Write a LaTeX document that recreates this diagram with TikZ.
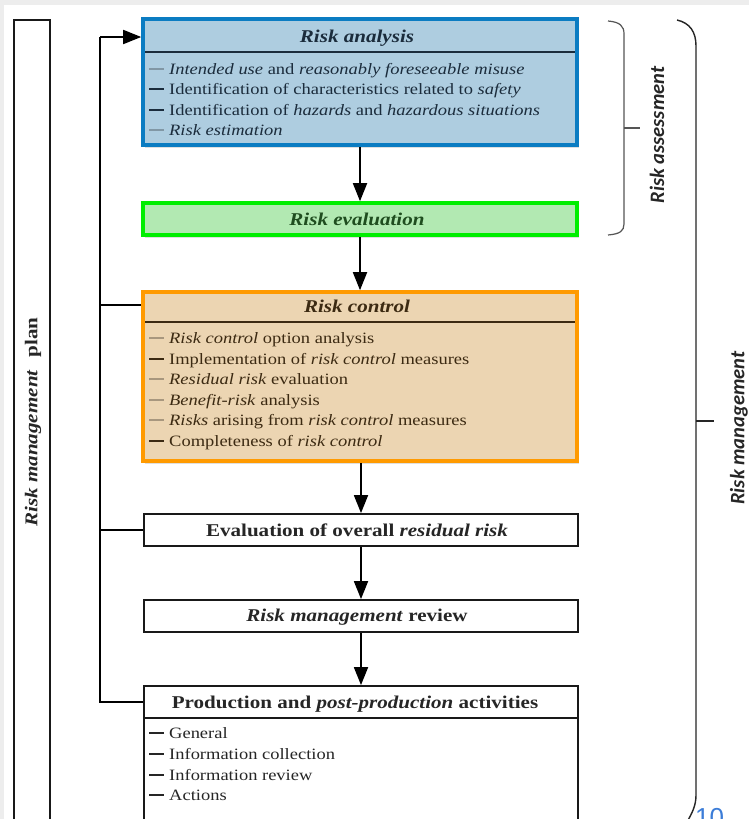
\documentclass[tikz,border=0pt]{standalone}
\usepackage{fontspec}
\setmainfont[FakeStretch=1.17]{Liberation Serif}
\newfontfamily\labelfont{Carlito}
\newfontfamily\slidefont{Liberation Sans}
\usetikzlibrary{arrows.meta,shadows}

\definecolor{pagegray}{HTML}{EDEDED}
\definecolor{anaborder}{HTML}{0B7CC2}
\definecolor{anafill}{HTML}{AECDE0}
\definecolor{anatext}{HTML}{1B2C3C}
\definecolor{anasoft}{HTML}{8197A5}
\definecolor{evlborder}{HTML}{00EE00}
\definecolor{evlfill}{HTML}{B2E9B2}
\definecolor{evltext}{HTML}{1F4D1F}
\definecolor{ctlborder}{HTML}{FF9A00}
\definecolor{ctlfill}{HTML}{ECD5B2}
\definecolor{ctltext}{HTML}{3C2A12}
\definecolor{ctlsoft}{HTML}{A8977E}
\definecolor{bracegray}{HTML}{555555}
\definecolor{slideblue}{HTML}{3C7DD8}

% one list entry: coloured dash, then the text
\newcommand\listentry[2]{\makebox[20pt][l]{\textcolor{#1}{\rule[0.28em]{15pt}{1.6pt}}}#2}

\tikzset{
  boxpath/.style={draw, rectangle, inner sep=0pt, minimum width=434pt},
  colourbox/.style={boxpath, line width=3.6pt,
    drop shadow={opacity=0.25, shadow xshift=1.5pt, shadow yshift=-3pt}},
  plainbox/.style={boxpath, line width=1.8pt, fill=white, draw=black!90},
  titletext/.style={font=\bfseries\fontsize{18}{21}\selectfont, anchor=base, inner sep=0pt},
  itemtext/.style={font=\fontsize{15.8}{20}\selectfont, anchor=base west, inner sep=0pt},
  flowline/.style={line width=1.8pt, black},
  flow/.style={flowline, -{Triangle[length=18pt,width=14pt]}},
  sidelabel/.style={font=\labelfont\bfseries\itshape\fontsize{20.5}{24}\selectfont,
    rotate=90, text=black!85, inner sep=0pt},
}

\begin{document}
\begin{tikzpicture}[x=1pt,y=-1pt]
\useasboundingbox (0,0) rectangle (749,819);
\fill[pagegray] (0,0) rectangle (749,819);
\fill[white] (4,5) rectangle (749,819);

% risk management plan column
\node[plainbox, minimum width=36pt, minimum height=830pt, anchor=north] (plan) at (32,19) {};
\node[font=\bfseries\fontsize{18}{21}\selectfont, rotate=90, text=black!85, inner sep=0pt]
  (planlabel) at (33,422) {\textit{Risk management}\hspace{0.7em}plan};

% process boxes
\node[colourbox, draw=anaborder, fill=anafill, minimum height=126pt] (ana) at (360,82) {};
\node[colourbox, draw=evlborder, fill=evlfill, minimum height=32pt] (evl) at (360,219) {};
\node[colourbox, draw=ctlborder, fill=ctlfill, minimum height=169pt] (ctl) at (360,376.5) {};
\node[plainbox, minimum height=32pt] (eor) at (361,530) {};
\node[plainbox, minimum height=32pt] (rmr) at (361,616) {};
\node[plainbox, minimum height=32pt] (prodhead) at (361,702) {};
\node[plainbox, minimum height=130pt] (prodbody) at (361,783) {};

% risk analysis contents
\node[titletext, text=anatext] (anatitle) at (357,42) {\itshape Risk analysis};
\draw[anatext, line width=1.8pt] (145,52) -- (575,52);
\node[itemtext, text=anatext] (ana1) at (149,74)
  {\listentry{anasoft}{\emph{Intended use} and \emph{reasonably foreseeable misuse}}};
\node[itemtext, text=anatext] (ana2) at (149,94.5)
  {\listentry{anatext}{Identification of characteristics related to \emph{safety}}};
\node[itemtext, text=anatext] (ana3) at (149,115)
  {\listentry{anatext}{Identification of \emph{hazards} and \emph{hazardous situations}}};
\node[itemtext, text=anatext] (ana4) at (149,135.5)
  {\listentry{anasoft}{\emph{Risk estimation}}};

% risk evaluation
\node[titletext, text=evltext] (evltitle) at (357,225) {\itshape Risk evaluation};

% risk control contents
\node[titletext, text=ctltext] (ctltitle) at (357,312) {\itshape Risk control};
\draw[ctltext, line width=1.8pt] (145,322) -- (575,322);
\node[itemtext, text=ctltext] (ctl1) at (149,343.5)
  {\listentry{ctlsoft}{\emph{Risk control} option analysis}};
\node[itemtext, text=ctltext] (ctl2) at (149,364)
  {\listentry{ctltext}{Implementation of \emph{risk control} measures}};
\node[itemtext, text=ctltext] (ctl3) at (149,384.5)
  {\listentry{ctlsoft}{\emph{Residual risk} evaluation}};
\node[itemtext, text=ctltext] (ctl4) at (149,405)
  {\listentry{ctlsoft}{\emph{Benefit-risk} analysis}};
\node[itemtext, text=ctltext] (ctl5) at (149,425.5)
  {\listentry{ctlsoft}{\emph{Risks} arising from \emph{risk control} measures}};
\node[itemtext, text=ctltext] (ctl6) at (149,446)
  {\listentry{ctltext}{Completeness of \emph{risk control}}};

% remaining steps
\node[titletext, text=black!85] (eortitle) at (357,536.5) {Evaluation of overall \textit{residual risk}};
\node[titletext, text=black!85] (rmrtitle) at (357,621.5) {\textit{Risk management} review};
\node[titletext, text=black!85] (prodtitle) at (355,708) {Production and \textit{post-production} activities};
\node[itemtext, text=black!85] (prod1) at (149,738) {\listentry{black!85}{General}};
\node[itemtext, text=black!85] (prod2) at (149,759) {\listentry{black!85}{Information collection}};
\node[itemtext, text=black!85] (prod3) at (149,780) {\listentry{black!85}{Information review}};
\node[itemtext, text=black!85] (prod4) at (149,800) {\listentry{black!85}{Actions}};

% main flow
\draw[flow] (ana.south) -- (evl.north);
\draw[flow] (evl.south) -- (ctl.north);
\draw[flow] (ctl.south -| eor.north) -- (eor.north);
\draw[flow] (eor.south) -- (rmr.north);
\draw[flow] (rmr.south) -- (prodhead.north);

% feedback loop on the left
\coordinate (loop) at (100,37);
\coordinate (tapctl) at (100,305);
\draw[flowline] (prodhead.west) -| (loop);
\draw[flow] (loop) -- (loop -| ana.west);
\draw[flowline] (tapctl) -- (tapctl -| ctl.west);
\draw[flowline] (eor.west) -- (eor.west -| loop);

% brackets on the right
\draw[bracegray, line width=1.2pt]
  (608,21) .. controls (620,22) and (624,26) .. (624,34) -- (624,224)
  .. controls (624,231) and (620,234) .. (608,235);
\draw[bracegray, line width=1.2pt] (624,128) -- (640,128);
\node[sidelabel] (assess) at (657,135) {Risk assessment};

\draw[black!85, line width=1.4pt]
  (677,20) .. controls (690,23) and (696,32) .. (696,46) -- (696,795)
  .. controls (696,806) and (692,813) .. (687,822);
\draw[black!85, line width=1.2pt] (696,421) -- (714,421);
\node[sidelabel] (manage) at (739,428) {Risk management};

% slide number
\node[font=\slidefont\fontsize{26}{30}\selectfont, text=slideblue, anchor=base west, inner sep=0pt]
  (slideno) at (695,826) {10};
\end{tikzpicture}
\end{document}
